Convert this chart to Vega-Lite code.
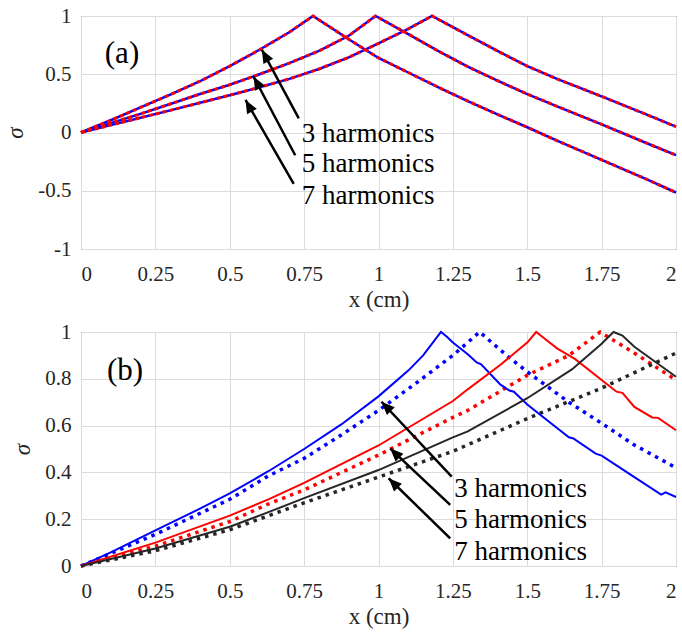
{
  "$schema": "https://vega.github.io/schema/vega-lite/v6.json",
  "background": "white",
  "padding": {"left": 4, "top": 4, "right": 2, "bottom": 0},
  "spacing": 8,
  "config": {
    "font": "Liberation Serif",
    "view": {"stroke": "#262626", "strokeWidth": 1},
    "axis": {
      "labelFont": "Liberation Serif", "labelFontSize": 21, "labelColor": "#262626",
      "titleFont": "Liberation Serif", "titleFontSize": 23, "titleFontWeight": "normal", "titleColor": "#262626",
      "gridColor": "#dcdcdc", "gridWidth": 1, "domain": false, "ticks": false, "labelPadding": 10,
      "labelExpr": "replace(format(datum.value, '~g'), '−', '-')"
    }
  },
  "datasets": {
    "a": [
      {"h": "3", "x": 0, "y": 0}, {"h": "3", "x": 0.1, "y": 0.105}, {"h": "3", "x": 0.2, "y": 0.215}, {"h": "3", "x": 0.3, "y": 0.325},
      {"h": "3", "x": 0.4, "y": 0.44}, {"h": "3", "x": 0.5, "y": 0.57}, {"h": "3", "x": 0.6, "y": 0.71}, {"h": "3", "x": 0.7, "y": 0.86},
      {"h": "3", "x": 0.78, "y": 1.0}, {"h": "3", "x": 0.9, "y": 0.8}, {"h": "3", "x": 1.0, "y": 0.64}, {"h": "3", "x": 1.1, "y": 0.515},
      {"h": "3", "x": 1.2, "y": 0.39}, {"h": "3", "x": 1.3, "y": 0.27}, {"h": "3", "x": 1.4, "y": 0.155}, {"h": "3", "x": 1.5, "y": 0.045},
      {"h": "3", "x": 1.6, "y": -0.07}, {"h": "3", "x": 1.75, "y": -0.235}, {"h": "3", "x": 1.9, "y": -0.4}, {"h": "3", "x": 2.0, "y": -0.515},
      {"h": "5", "x": 0, "y": 0}, {"h": "5", "x": 0.1, "y": 0.08}, {"h": "5", "x": 0.2, "y": 0.16}, {"h": "5", "x": 0.3, "y": 0.245},
      {"h": "5", "x": 0.4, "y": 0.33}, {"h": "5", "x": 0.5, "y": 0.41}, {"h": "5", "x": 0.6, "y": 0.5}, {"h": "5", "x": 0.7, "y": 0.595},
      {"h": "5", "x": 0.8, "y": 0.7}, {"h": "5", "x": 0.9, "y": 0.83}, {"h": "5", "x": 0.99, "y": 1.0}, {"h": "5", "x": 1.1, "y": 0.845},
      {"h": "5", "x": 1.2, "y": 0.7}, {"h": "5", "x": 1.3, "y": 0.565}, {"h": "5", "x": 1.4, "y": 0.445}, {"h": "5", "x": 1.5, "y": 0.33},
      {"h": "5", "x": 1.6, "y": 0.225}, {"h": "5", "x": 1.75, "y": 0.07}, {"h": "5", "x": 1.9, "y": -0.09}, {"h": "5", "x": 2.0, "y": -0.195},
      {"h": "7", "x": 0, "y": 0}, {"h": "7", "x": 0.1, "y": 0.063}, {"h": "7", "x": 0.2, "y": 0.127}, {"h": "7", "x": 0.3, "y": 0.19},
      {"h": "7", "x": 0.4, "y": 0.255}, {"h": "7", "x": 0.5, "y": 0.32}, {"h": "7", "x": 0.6, "y": 0.388}, {"h": "7", "x": 0.7, "y": 0.46},
      {"h": "7", "x": 0.8, "y": 0.545}, {"h": "7", "x": 0.9, "y": 0.645}, {"h": "7", "x": 1.0, "y": 0.765}, {"h": "7", "x": 1.1, "y": 0.89},
      {"h": "7", "x": 1.18, "y": 1.0}, {"h": "7", "x": 1.3, "y": 0.835}, {"h": "7", "x": 1.4, "y": 0.7}, {"h": "7", "x": 1.5, "y": 0.57},
      {"h": "7", "x": 1.6, "y": 0.46}, {"h": "7", "x": 1.75, "y": 0.31}, {"h": "7", "x": 1.9, "y": 0.155}, {"h": "7", "x": 2.0, "y": 0.05}
    ],
    "b": [
      {"h": "3", "k": "s", "x": 0, "y": 0}, {"h": "3", "k": "s", "x": 0.1, "y": 0.058}, {"h": "3", "k": "s", "x": 0.25, "y": 0.152},
      {"h": "3", "k": "s", "x": 0.4, "y": 0.245}, {"h": "3", "k": "s", "x": 0.5, "y": 0.31}, {"h": "3", "k": "s", "x": 0.63, "y": 0.405},
      {"h": "3", "k": "s", "x": 0.75, "y": 0.5}, {"h": "3", "k": "s", "x": 0.875, "y": 0.605}, {"h": "3", "k": "s", "x": 1.0, "y": 0.725},
      {"h": "3", "k": "s", "x": 1.1, "y": 0.835}, {"h": "3", "k": "s", "x": 1.15, "y": 0.9}, {"h": "3", "k": "s", "x": 1.21, "y": 1.0},
      {"h": "3", "k": "s", "x": 1.23, "y": 0.98}, {"h": "3", "k": "s", "x": 1.25, "y": 0.955}, {"h": "3", "k": "s", "x": 1.3, "y": 0.905},
      {"h": "3", "k": "s", "x": 1.33, "y": 0.87}, {"h": "3", "k": "s", "x": 1.345, "y": 0.862}, {"h": "3", "k": "s", "x": 1.41, "y": 0.775},
      {"h": "3", "k": "s", "x": 1.44, "y": 0.75}, {"h": "3", "k": "s", "x": 1.455, "y": 0.745}, {"h": "3", "k": "s", "x": 1.5, "y": 0.69},
      {"h": "3", "k": "s", "x": 1.6, "y": 0.59}, {"h": "3", "k": "s", "x": 1.64, "y": 0.55}, {"h": "3", "k": "s", "x": 1.655, "y": 0.545},
      {"h": "3", "k": "s", "x": 1.73, "y": 0.48}, {"h": "3", "k": "s", "x": 1.75, "y": 0.472}, {"h": "3", "k": "s", "x": 1.86, "y": 0.38},
      {"h": "3", "k": "s", "x": 1.95, "y": 0.305}, {"h": "3", "k": "s", "x": 1.965, "y": 0.315}, {"h": "3", "k": "s", "x": 2.0, "y": 0.295},
      {"h": "3", "k": "d", "x": 0, "y": 0}, {"h": "3", "k": "d", "x": 0.25, "y": 0.135}, {"h": "3", "k": "d", "x": 0.5, "y": 0.285},
      {"h": "3", "k": "d", "x": 0.63, "y": 0.385}, {"h": "3", "k": "d", "x": 0.75, "y": 0.46}, {"h": "3", "k": "d", "x": 0.875, "y": 0.56},
      {"h": "3", "k": "d", "x": 1.0, "y": 0.665}, {"h": "3", "k": "d", "x": 1.125, "y": 0.78}, {"h": "3", "k": "d", "x": 1.25, "y": 0.9},
      {"h": "3", "k": "d", "x": 1.34, "y": 1.0}, {"h": "3", "k": "d", "x": 1.44, "y": 0.89}, {"h": "3", "k": "d", "x": 1.5, "y": 0.83},
      {"h": "3", "k": "d", "x": 1.64, "y": 0.7}, {"h": "3", "k": "d", "x": 1.75, "y": 0.61}, {"h": "3", "k": "d", "x": 1.86, "y": 0.517},
      {"h": "3", "k": "d", "x": 2.0, "y": 0.42},
      {"h": "5", "k": "s", "x": 0, "y": 0}, {"h": "5", "k": "s", "x": 0.25, "y": 0.1}, {"h": "5", "k": "s", "x": 0.5, "y": 0.215},
      {"h": "5", "k": "s", "x": 0.63, "y": 0.285}, {"h": "5", "k": "s", "x": 0.75, "y": 0.355}, {"h": "5", "k": "s", "x": 1.0, "y": 0.515},
      {"h": "5", "k": "s", "x": 1.25, "y": 0.705}, {"h": "5", "k": "s", "x": 1.3, "y": 0.755}, {"h": "5", "k": "s", "x": 1.41, "y": 0.86},
      {"h": "5", "k": "s", "x": 1.5, "y": 0.955}, {"h": "5", "k": "s", "x": 1.53, "y": 1.0}, {"h": "5", "k": "s", "x": 1.56, "y": 0.97},
      {"h": "5", "k": "s", "x": 1.6, "y": 0.93}, {"h": "5", "k": "s", "x": 1.64, "y": 0.9}, {"h": "5", "k": "s", "x": 1.66, "y": 0.885},
      {"h": "5", "k": "s", "x": 1.75, "y": 0.795}, {"h": "5", "k": "s", "x": 1.8, "y": 0.745}, {"h": "5", "k": "s", "x": 1.82, "y": 0.74},
      {"h": "5", "k": "s", "x": 1.86, "y": 0.68}, {"h": "5", "k": "s", "x": 1.92, "y": 0.635}, {"h": "5", "k": "s", "x": 1.94, "y": 0.633},
      {"h": "5", "k": "s", "x": 2.0, "y": 0.58},
      {"h": "5", "k": "d", "x": 0, "y": 0}, {"h": "5", "k": "d", "x": 0.25, "y": 0.085}, {"h": "5", "k": "d", "x": 0.5, "y": 0.19},
      {"h": "5", "k": "d", "x": 0.63, "y": 0.265}, {"h": "5", "k": "d", "x": 0.75, "y": 0.325}, {"h": "5", "k": "d", "x": 1.0, "y": 0.474},
      {"h": "5", "k": "d", "x": 1.25, "y": 0.635}, {"h": "5", "k": "d", "x": 1.3, "y": 0.665}, {"h": "5", "k": "d", "x": 1.5, "y": 0.815},
      {"h": "5", "k": "d", "x": 1.64, "y": 0.9}, {"h": "5", "k": "d", "x": 1.745, "y": 1.0}, {"h": "5", "k": "d", "x": 1.86, "y": 0.91},
      {"h": "5", "k": "d", "x": 2.0, "y": 0.795},
      {"h": "7", "k": "s", "x": 0, "y": 0}, {"h": "7", "k": "s", "x": 0.25, "y": 0.075}, {"h": "7", "k": "s", "x": 0.5, "y": 0.168},
      {"h": "7", "k": "s", "x": 0.63, "y": 0.23}, {"h": "7", "k": "s", "x": 0.75, "y": 0.29}, {"h": "7", "k": "s", "x": 1.0, "y": 0.41},
      {"h": "7", "k": "s", "x": 1.25, "y": 0.55}, {"h": "7", "k": "s", "x": 1.3, "y": 0.575}, {"h": "7", "k": "s", "x": 1.5, "y": 0.717},
      {"h": "7", "k": "s", "x": 1.65, "y": 0.84}, {"h": "7", "k": "s", "x": 1.75, "y": 0.95}, {"h": "7", "k": "s", "x": 1.79, "y": 1.0},
      {"h": "7", "k": "s", "x": 1.82, "y": 0.985}, {"h": "7", "k": "s", "x": 1.86, "y": 0.937}, {"h": "7", "k": "s", "x": 1.93, "y": 0.873},
      {"h": "7", "k": "s", "x": 2.0, "y": 0.809},
      {"h": "7", "k": "d", "x": 0, "y": 0}, {"h": "7", "k": "d", "x": 0.25, "y": 0.065}, {"h": "7", "k": "d", "x": 0.5, "y": 0.155},
      {"h": "7", "k": "d", "x": 0.75, "y": 0.27}, {"h": "7", "k": "d", "x": 1.0, "y": 0.38}, {"h": "7", "k": "d", "x": 1.25, "y": 0.49},
      {"h": "7", "k": "d", "x": 1.5, "y": 0.63}, {"h": "7", "k": "d", "x": 1.75, "y": 0.76}, {"h": "7", "k": "d", "x": 2.0, "y": 0.91}
    ],
    "arrA": [
      {"x0": 0.732, "y0": 0.121, "x1": 0.608, "y1": 0.71},
      {"x0": 0.72, "y0": -0.195, "x1": 0.58, "y1": 0.48},
      {"x0": 0.715, "y0": -0.44, "x1": 0.553, "y1": 0.279}
    ],
    "arrB": [
      {"x0": 1.246, "y0": 0.382, "x1": 1.01, "y1": 0.702},
      {"x0": 1.241, "y0": 0.261, "x1": 1.039, "y1": 0.503},
      {"x0": 1.241, "y0": 0.118, "x1": 1.034, "y1": 0.375}
    ],
    "txtA": [
      {"t": "3 harmonics", "x": 0.742, "y": -0.08},
      {"t": "5 harmonics", "x": 0.742, "y": -0.339},
      {"t": "7 harmonics", "x": 0.742, "y": -0.615}
    ],
    "txtB": [
      {"t": "3 harmonics", "x": 1.255, "y": 0.295},
      {"t": "5 harmonics", "x": 1.255, "y": 0.162},
      {"t": "7 harmonics", "x": 1.255, "y": 0.026}
    ],
    "tagA": [{"t": "(a)", "x": 0.08, "y": 0.595}],
    "tagB": [{"t": "(b)", "x": 0.087, "y": 0.795}]
  },
  "vconcat": [
    {
      "width": 595, "height": 233,
      "encoding": {
        "x": {"type": "quantitative", "scale": {"domain": [0, 2]}, "axis": {"values": [0, 0.25, 0.5, 0.75, 1, 1.25, 1.5, 1.75, 2], "title": "x (cm)", "labelPadding": 14, "titlePadding": 4}},
        "y": {"type": "quantitative", "scale": {"domain": [-1, 1]}, "axis": {"values": [-1, -0.5, 0, 0.5, 1], "title": "σ", "titleFontStyle": "italic", "titlePadding": 10}}
      },
      "layer": [
        {"data": {"name": "a"}, "mark": {"type": "line", "color": "#0000ff", "strokeWidth": 2.5},
         "encoding": {"x": {"field": "x", "type": "quantitative"}, "y": {"field": "y", "type": "quantitative"}, "detail": {"field": "h"}}},
        {"data": {"name": "a"}, "mark": {"type": "line", "color": "#ff0000", "strokeWidth": 3, "strokeDash": [4, 3]},
         "encoding": {"x": {"field": "x", "type": "quantitative"}, "y": {"field": "y", "type": "quantitative"}, "detail": {"field": "h"}}},
        {"data": {"name": "arrA"}, "mark": {"type": "rule", "color": "black", "strokeWidth": 2.5},
         "encoding": {"x": {"field": "x0", "type": "quantitative"}, "y": {"field": "y0", "type": "quantitative"}, "x2": {"field": "x1"}, "y2": {"field": "y1"}}},
        {"data": {"name": "arrA"}, "mark": {"type": "point", "shape": "M0,0L-0.42,1L0.42,1Z", "filled": true, "opacity": 1, "color": "black", "size": 700, "angle": -29},
         "encoding": {"x": {"field": "x1", "type": "quantitative"}, "y": {"field": "y1", "type": "quantitative"}}},
        {"data": {"name": "txtA"}, "mark": {"type": "text", "align": "left", "baseline": "alphabetic", "fontSize": 27, "font": "Liberation Serif", "color": "black"},
         "encoding": {"x": {"field": "x", "type": "quantitative"}, "y": {"field": "y", "type": "quantitative"}, "text": {"field": "t"}}},
        {"data": {"name": "tagA"}, "mark": {"type": "text", "align": "left", "baseline": "alphabetic", "fontSize": 31, "font": "Liberation Serif", "color": "black"},
         "encoding": {"x": {"field": "x", "type": "quantitative"}, "y": {"field": "y", "type": "quantitative"}, "text": {"field": "t"}}}
      ]
    },
    {
      "width": 595, "height": 234,
      "encoding": {
        "x": {"type": "quantitative", "scale": {"domain": [0, 2]}, "axis": {"values": [0, 0.25, 0.5, 0.75, 1, 1.25, 1.5, 1.75, 2], "title": "x (cm)", "labelPadding": 14, "titlePadding": 4}},
        "y": {"type": "quantitative", "scale": {"domain": [0, 1]}, "axis": {"values": [0, 0.2, 0.4, 0.6, 0.8, 1], "title": "σ", "titleFontStyle": "italic", "titlePadding": 10}},
        "color": {"field": "h", "type": "nominal", "scale": {"domain": ["3", "5", "7"], "range": ["#0000ff", "#ff0000", "#262626"]}, "legend": null}
      },
      "layer": [
        {"data": {"name": "b"}, "transform": [{"filter": "datum.k === 'd'"}], "mark": {"type": "line", "strokeWidth": 3.5, "strokeDash": [3.5, 5]},
         "encoding": {"x": {"field": "x", "type": "quantitative"}, "y": {"field": "y", "type": "quantitative"}}},
        {"data": {"name": "b"}, "transform": [{"filter": "datum.k === 's'"}], "mark": {"type": "line", "strokeWidth": 2},
         "encoding": {"x": {"field": "x", "type": "quantitative"}, "y": {"field": "y", "type": "quantitative"}}},
        {"data": {"name": "arrB"}, "mark": {"type": "rule", "color": "black", "strokeWidth": 2.5},
         "encoding": {"x": {"field": "x0", "type": "quantitative"}, "y": {"field": "y0", "type": "quantitative"}, "x2": {"field": "x1"}, "y2": {"field": "y1"}, "color": {"value": "black"}}},
        {"data": {"name": "arrB"}, "mark": {"type": "point", "shape": "M0,0L-0.42,1L0.42,1Z", "filled": true, "opacity": 1, "color": "black", "size": 700, "angle": -45},
         "encoding": {"x": {"field": "x1", "type": "quantitative"}, "y": {"field": "y1", "type": "quantitative"}, "color": {"value": "black"}}},
        {"data": {"name": "txtB"}, "mark": {"type": "text", "align": "left", "baseline": "alphabetic", "fontSize": 27, "font": "Liberation Serif"},
         "encoding": {"x": {"field": "x", "type": "quantitative"}, "y": {"field": "y", "type": "quantitative"}, "text": {"field": "t"}, "color": {"value": "black"}}},
        {"data": {"name": "tagB"}, "mark": {"type": "text", "align": "left", "baseline": "alphabetic", "fontSize": 31, "font": "Liberation Serif"},
         "encoding": {"x": {"field": "x", "type": "quantitative"}, "y": {"field": "y", "type": "quantitative"}, "text": {"field": "t"}, "color": {"value": "black"}}}
      ]
    }
  ]
}
